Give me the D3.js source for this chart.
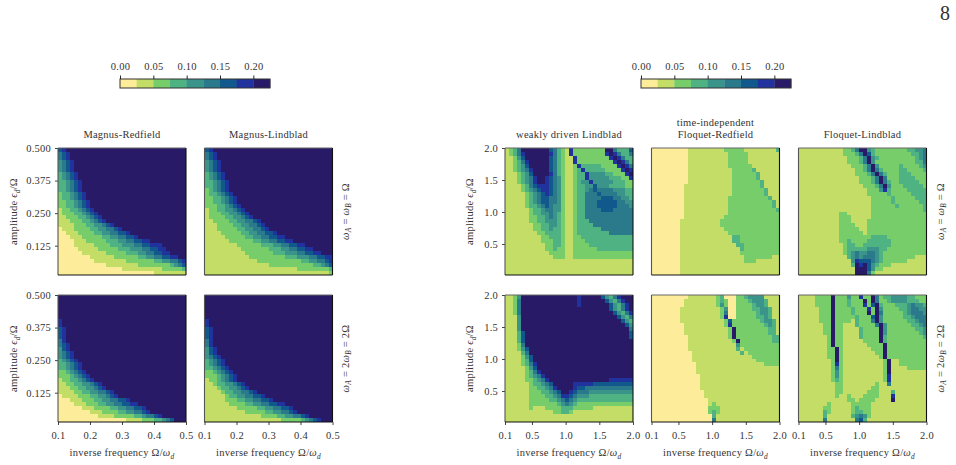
<!DOCTYPE html>
<html>
<head>
<meta charset="utf-8">
<script src="https://cdn.jsdelivr.net/npm/d3@7/dist/d3.min.js"></script>
<style>
  html, body { margin: 0; padding: 0; background: #fff; }
  svg { display: block; }
  text { font-family: "Liberation Serif", serif; fill: #333; }
</style>
</head>
<body>
<svg id="figure" width="956" height="465"></svg>
<script>
// Error measure per grid cell, stored as run-length coded rows from the top of
// each panel down. "8*3" means three cells in band 8; band b covers the values
// from b*0.025 up to (b+1)*0.025.
const magnusRedfieldEqual = [
  "6 7 8*30","5 6 7 8*29","5 6 7 8*29","4 5 6 7 8*28","4 5 6 7 8*28","4 5 6 7 8*28",
  "3 4 5 6 7 8*27","3 4 5 6 7 8*27","3*2 4 5 6 7 8*26","3*2 4 5 6 7 8*26","3*2 4 5 6 7 8*26",
  "2 3*2 4 5 6 7 8*25","2 3*2 4 5 6 7 8*25","2*2 3*2 4 5 6 7 8*24","2*2 3*2 4 5 6 7 8*24",
  "1 2*2 3*2 4 5 6 7 8*23","1 2*3 3*2 4 5 6 7 8*22","1*2 2*3 3*2 4 5 6 7 8*21",
  "1*3 2*3 3*2 4 5 6 7 8*20","1*4 2*3 3*2 4*2 5 6 7 8*18","0 1*3 2*4 3*2 4*2 5*2 6 7 8*16",
  "0*2 1*3 2*4 3*2 4*2 5*2 6*2 7 8*14","0*3 1*3 2*5 3*2 4*2 5*2 6*2 7 8*12",
  "0*4 1*3 2*5 3*3 4*2 5*2 6*2 7*2 8*9","0*4 1*5 2*4 3*3 4*3 5*2 6*2 7*3 8*6",
  "0*5 1*5 2*5 3*3 4*3 5*2 6*2 7*2 8*5","0*6 1*6 2*5 3*3 4*2 5*2 6*2 7*2 8*4",
  "0*8 1*6 2*6 3*2 4*2 5*2 6*2 7*2 8*2","0*9 1*8 2*7 3*2 4*2 5*2 6 7",
  "0*12 1*8 2*8 3 4 5 6","0*16 1*10 2*5 3","0*24 1*8"
];
const magnusLindbladEqual = [
  "6 7 8*30","5 6 7 8*29","5 6 7 8*29","4 5 6 7 8*28","4 5 6 7 8*28","4 5 6 7 8*28",
  "3 4 5 6 7 8*27","3 4 5 6 7 8*27","3*2 4 5 6 7 8*26","3*2 4 5 6 7 8*26","2 3 4 5 6 7 8*26",
  "2 3*2 4 5 6 7 8*25","2*2 3*2 4 5 6 7 8*24","2*2 3*2 4 5 6 7 8*24","2*3 3*2 4 5 6 7 8*23",
  "1 2*2 3*2 4*2 5 6 7 8*22","1 2*3 3*2 4*2 5 6 7 8*21","1 2*4 3*2 4*2 5 6 7 8*20",
  "1*2 2*4 3*2 4*2 5*2 6 7 8*18","1*3 2*4 3*2 4*2 5*2 6 7 8*17","1*3 2*5 3*2 4*2 5*2 6 7 8*16",
  "1*4 2*5 3*2 4*2 5*2 6*2 7 8*14","1*5 2*5 3*2 4*2 5*2 6*2 7*2 8*12",
  "1*6 2*6 3*2 4*2 5*2 6*2 7*2 8*10","1*8 2*6 3*3 4*2 5*2 6*2 7*2 8*7",
  "1*9 2*7 3*3 4*2 5*2 6*2 7*2 8*5","1*10 2*7 3*3 4*3 5*2 6*2 7*2 8*3",
  "1*11 2*9 3*3 4*3 5*2 6*2 7*2","1*13 2*11 3*2 4*2 5*2 6 7","1*16 2*11 3*2 4 5 6",
  "1*23 2*8 3","1*31 2"
];
const magnusRedfieldDouble = [
  "8*32","8*32","8*32","8*32","8*32","8*32","7 8*31","7 8*31","6 7 8*30","6 7 8*30","6 7 8*30",
  "5 7 8*30","5 6 7 8*29","4 6 7 8*29","4 5 6 7 8*28","4 5 6 7 8*28","3 4 5 6 7 8*27",
  "3*2 4 5 6 7 8*26","3*2 4 5 6 7 8*26","2*2 3 4 5 6 7 8*25","2*3 3 4 5 6 7 8*24",
  "1 2*2 3*2 4 5 6 7 8*23","1*2 2*2 3*2 4*2 5 6 7 8*21","1*3 2*2 3*2 4*2 5 6 7 8*20",
  "1*4 2*2 3*2 4*2 5*2 6 7 8*18","0 1*4 2*3 3*2 4*2 5 6 7 8*17",
  "0*3 1*3 2*3 3*2 4*2 5*2 6*2 7 8*14","0*4 1*3 2*3 3*2 4*2 5*2 6*2 7*2 8*12",
  "0*6 1*3 2*4 3*2 4*2 5*2 6*2 7 8*10","0*8 1*3 2*4 3*2 4*2 5*2 6 7 8*9",
  "0*10 1*4 2*5 3*2 4 5*2 6 7 8*6","0*17 1*4 2*3 3*2 4 5 6 8*3"
];
const magnusLindbladDouble = [
  "8*32","8*32","8*32","8*32","8*32","8*32","7 8*31","7 8*31","6 7 8*30","6 7 8*30","6 7 8*30",
  "5 7 8*30","5 7 8*30","4 6 7 8*29","4 6 7 8*29","4 5 6 7 8*28","3 4 5 6 7 8*27","3 4 5 6 7 8*27",
  "3*2 4 5 6 7 8*26","2*2 3 4 5 6 7 8*25","2*3 3 4 5 6 7 8*24","1 2*2 3 4 5 6 7 8*24",
  "1*2 2 3*2 4*2 5 6 7 8*22","1*3 2 3*2 4*2 5 6 7 8*21","1*4 2 3*2 4*2 5*2 6 7 8*19",
  "1*5 2 3*2 4*2 5*2 6*2 7 8*17","1*5 2*3 3*2 4*2 5*2 6*2 7 8*15",
  "1*6 2*4 3*2 4*2 5*2 6*2 7*2 8*12","1*8 2*5 3*2 4*2 5*2 6*2 7 8*10",
  "1*10 2*5 3*2 4*2 5*2 6 7 8*9","1*14 2*4 3*2 4*2 5*2 6 7 8*6","1*19 2*5 3 4 5 6 7 8*3"
];
const weakLindbladEqual = [
  "1 2 3 5 8*7 6 5 3 2 1 7 2*8 8*2 5 3*3 6","1 2 3 5 7 8*6 7 5 3 2 1 7 2*8 7 8 7 5 3*2 5",
  "1*2 2 4 6 8*6 6 5 3 2 1*2 7 2*8 7 8 7 5 3*2","1*2 2 3 5 7 8*5 6 5 3 2 1*2 7 2*9 7 8 7 5 3",
  "1*2 2 3 4 6 8*5 6 5 3 2 1*2 2 7 3*5 2*4 7 8 7 5","1*2 2 3 4 5 7 8*4 6 5 3 2 1*2 2 3 7 3*5 2*4 7 8 7",
  "1*3 2 3 4 6 8*4 7 5 3 2 1*2 2 3*2 7 4*4 3*2 2*3 7 8","1*3 2 3 4 5 7 8*2 7 6 5 4 2 1*2 2 3*2 7 4*5 3*3 2*2 7",
  "1*3 2 3 4 5 7 8*2 7 6 5 4 2 1*2 2 3 4*2 7 4*5 3*3 2*2","1*4 2 3 5 6 7*3 6 5 4 2 1*2 2 3*2 4*2 6 4*3 3*4 2*2",
  "1*4 2 3 4 5 6 7*2 6 5 4 2 1*2 2 3*2 4 5 6 5*4 4*3 3*2","1*5 2 3 4 5 6 7 6 5 4 2 1*2 2 3*2 5*3 6 5*4 4*2 3*2",
  "1*5 2 3 4 5 6*2 5*2 4 2 1*2 2 3*2 5*4 6*3 5*2 4*2 3","1*5 2 3 4 5 6*2 5*2 4 2 1*2 2 3*2 5*3 6*5 5*2 4*2",
  "1*5 2 3*2 4 5 6 5 4*2 2 1*2 2 3*2 5*3 6*5 5*3 4","1*6 2 3*2 4 5*2 4*2 2 1*2 2 3*2 5*4 6*3 5*5",
  "1*6 2 3*2 4*2 5 4 3 2 1*2 2 3*2 5*12","1*6 2*2 3*2 4 5 4 3 2 1*2 2 3*2 5*12",
  "1*6 2*2 3*2 4*3 3 2 1*2 2 3*3 5*11","1*7 2*2 3*2 4*2 3 2 1*2 2 3*4 5*10",
  "1*7 2*2 3*2 4 3*2 2 1*2 2 3*6 5*8","1*8 2*2 3*4 2 1*2 2 3*8 5*6",
  "1*9 2*2 3*3 2 1*2 2*2 3*13","1*9 2*3 3*2 2 1*2 2*3 3*12","1*10 2*2 3*2 2 1*2 2*4 3*11",
  "1*10 2*2 3 2*2 1*2 2*6 3*9","1*11 2*4 1*2 2*15","1*12 2*3 1*2 2*15","1*32","1*32","1*32","1*32"
];
const floquetRedfieldEqual = [
  "0*9 1*9 2*5 1*8 3","0*9 1*10 2*5 1*8","0*9 1*10 2*5 1*8","0*9 1*10 2*5 1*8","0*9 1*10 2*6 1*7",
  "0*9 1*11 2*5 3 1*6","0*9 1*11 2*6 3 1*5","0*9 1*11 2*6 3 1*5","0*9 1*11 2*7 3 1*4",
  "0*8 1*12 2*7 3 1*4","0*8 1*12 2*8 3 1*3","0*8 1*12 2*8 3 1*3","0*8 1*11 2*10 3 1*2",
  "0*8 1*11 2*11 3 1","0*8 1*11 2*11 3 1","0*8 1*11 2*12 3","0*8 1*11 2*13","0*8 1*10 2*14",
  "0*7 1*10 2*15","0*7 1*10 2*15","0*7 1*11 2*14","0*7 1*12 2*13","0*7 1*13 3*2 2*10",
  "0*7 1*13 3*2 2*10","0*7 1*14 3*2 2*9","0*7 1*15 3 2*9","0*7 1*15 2*10","0*7 1*16 2*7 1*2",
  "0*7 1*16 2*3 1*6","0*7 1*25","0*7 1*25","0*7 1*25"
];
const floquetLindbladEqual = [
  "1*11 2*2 3 5 8*2 4 3 2*8 3*2 4*2 5","1*11 2*3 3 5 8 6 3 2*9 3*2 4 5","1*12 2*3 3 5 8 4 3 2*9 3 4 5",
  "1*12 2*3 3 5 8 4 2*10 3*2 5","1*13 2*3 3 5 8 4 2*5 3 2*4 3 4","1*14 2*2 3 5 8 5 3 2*4 3*2 2*4 3",
  "1*14 2*3 3 5 8 5 3 2*3 3*3 2*4","1*15 2*3 3 5 8 5 2*3 3*4 2*3","1*15 2*3 3 5 8 5 3 2*2 3*5 2*2",
  "1*16 2*3 3 5 8 4 2*3 3*5 2","1*17 2*3 4 7 3 2*4 3*5","1*17 2*5 3 2*5 3*4","1*18 2*5 3 2*5 3*3",
  "1*18 2*5 3 2*6 3*2","1*18 2*6 3 2*6 3","1*18 2*13 3","1*10 2*2 1*6 2*14","1*10 2*3 1*5 2*14",
  "1*10 2*3 1*4 2*15","1*10 2*4 1*3 2*15","1*10 2*5 1*2 2*15","1*10 2*6 1 2*15","1*10 2*8 3*4 2*10",
  "1*10 2*2 3 2*4 3*6 2*9","1*11 2 3*2 2*2 3*7 2*9","1*11 2 3*5 4*3 3*2 2*10",
  "1*11 2 3 4 5 4*2 5*2 4 3 2*11","1*12 3 4 5 4 5*3 4 3 2*8 1*3","1*13 4 7 6*3 5 4 3 2*6 1*6",
  "1*13 3 8 7 8 6 4 3 2*3 1*9","1*14 8*3 6 4 2*2 1*11","1*14 8*3 5 2 1*13"
];
const weakLindbladDouble = [
  "1*2 2 4 8*14 7 8*5 6 4 3 5 7 8*3","1*2 2 5 8*14 7 8*6 6 4 3 5 7 8*2","1*2 2 5 8*14 7 8*7 6 4 3 5 7 8",
  "1*2 2 5 8*22 6 4 3 5 7 8","1*2 2 5 8*23 6 4 3 5 7","1*3 4 8*24 6 4 3 5","1*3 4 8*25 6 4 3",
  "1*3 4 8*26 6 4","1*3 4 8*27 5","1*3 3 6 8*26 6","1*3 3 6 8*26 6","1*3 3 6 8*27","1*3 2 5 8*27",
  "1*3 2 4 6 8*26","1*4 3 5 8*26","1*4 2 4 6 8*25","1*4 2 3 6 8*25","1*4 2 3 5 7 8*24",
  "1*5 2 4 6 8*24","1*5 2 3 5 7 8*23","1*5 2 3 4 5 7 8*22","1*5 2*2 3 4 5 7 8*15 7*6",
  "1*6 2 3*2 4 5 6 8*5 7*5 6*10","1*6 2*2 3*2 4 5 7 8*4 7 6*2 5*12","1*6 2*3 3*2 4 5 6 8*2 7 6 5*3 4*11",
  "1*6 2*4 3*2 4 5 7*2 6 5 4*3 3*11","1*6 2*5 3*2 4 5 6 5 4 3*14","1*6 2*7 3 4 5 4 3 2*14",
  "1*6 2 1*3 2*4 3*3 2*5 1*10","1*12 2*2 3*2 2 1*15","1*32","1*32"
];
const floquetRedfieldDouble = [
  "0*9 1*7 2 3 0*3 2*2 3 4*4 1*4","0*8 1*8 2 3 2 0*2 2*3 3 4*3 3 1*3","0*8 1*8 2 4 2 0*2 2*4 3 4*2 3 1*3",
  "0*7 1*10 2 4 0*2 2*4 3*2 4*2 3 1*2","0*7 1*10 2 5 0*2 2*5 3 4*2 3 1*2","0*7 1*10 2 7 0*2 2*5 3*2 4 3 1*2",
  "0*7 1*11 2 6 2*7 3 4*2 3 1","0*8 1*10 2 7 2*8 3 4 3 1","0*8 1*11 2 8 2*8 3*2 1","0*8 1*11 2 8 2*8 3*2 1",
  "0*9 1*10 2 8 2*9 3*2","0*9 1*11 2 8 2*8 3*2","0*9 1*12 4 2*10","0*9 1*12 3 1 2*9","0*10 1*12 3 1 2*8",
  "0*10 1*15 2*7","0*10 1*16 2*6","0*11 1*17 2*4","0*11 1*21","0*11 1*21","0*12 1*20","0*12 1*20","0*12 1*20",
  "0*12 1*20","0*13 1*19","0*13 1*19","0*14 1*18","0*14 1 2 1*16","0*14 2*3 1*15","0*14 2 3 2 1*15",
  "0*15 3 1*16","0*15 5 1*16"
];
const floquetLindbladDouble = [
  "1*4 2*4 8 2*3 4 2*2 7 2*2 8 5 2 3*2 4*4 3*2 2*3","1*4 2*4 8 2*3 3 2*3 8 2 8 5 2*2 3 4*4 3*3 2*2",
  "1*4 2*4 8 2*3 3 2*3 7 2 6 8 3 2*3 3*3 4 5 4*2 3","1*5 2*3 8 2*4 3 2*3 7 2 8 4 2*4 3*2 4 5*2 4*2",
  "1*5 2*3 8 2*4 3 2*3 8 2 8 5 2*5 3 4 5*3 4","1*5 2*3 8 2*5 3 2*3 6 8 4 2*5 3*2 4 5*3",
  "1*5 2*3 8 2*4 1 3 2*3 5 8 4 2*6 3*2 4 5*2","1*6 2*2 8 2*2 1*3 3 2*4 5 8 4 2*6 3*2 4 5",
  "1*6 2*2 8 2*2 1*4 3 2*4 8 4 2*7 3*2 4","1*6 2*2 8 2*2 1*4 3 2*4 8 4 2*8 3 4",
  "1*7 2 8 2*2 1*4 3 2*4 8 3 2*9 3","1*7 2 8 2*2 1*5 2*4 8 3 2*10","1*7 2 8 2*2 1*6 2*4 8 2*10",
  "1*7 2*2 8 2 1*7 2*3 8 2*10","1*7 2*2 8 2 1*8 2*2 8 2*10","1*7 2*2 8 2 1*9 2 8 2*10",
  "1*8 2 8 2 1*10 2 8 1*2 2*7","1*8 2 7 2 1*10 2 8 1*2 2*7","1*8 2 5 2 1*10 2 8 1*4 2*5",
  "1*8 2 4 2 1*10 2 8 1*9","1*8 2 4 2 1*10 2 7 1*9","1*8 2 3 2 1*10 2 7 1*9",
  "1*9 2*2 1*8 2 1*2 5 1*9","1*9 2*2 1*7 2*2 1*12","1*9 2*2 1*6 2*3 1*3 3 1*8",
  "1*9 2 1*2 2 1*3 2*4 1*3 7 1*8","1*12 2*2 1 2*4 1*4 8 1*8","1*7 2 1*5 2*5 1*14",
  "1*6 2*2 1*5 2 3 2*3 1*14","1*6 3 2 1*5 2 3*2 2*2 1*14","1*6 3 1*6 3 4 5 4 2 1*14","1*6 5 1*7 5 6 3 1*15"
];

const bandColors = ["#fdec9a","#c3dd66","#78cd6b","#4eb282","#3a9489","#2a7a8c","#11598c","#20329e","#291a68"];
const bandEdges = [0.025,0.05,0.075,0.1,0.125,0.15,0.175,0.2];
const colorbarTicks = [0,0.05,0.1,0.15,0.2];
const narrowFreqTicks = [0.1,0.2,0.3,0.4,0.5];
const narrowAmpTicks = [0.125,0.25,0.375,0.5];
const wideFreqTicks = [0.1,0.5,1,1.5,2];
const wideAmpTicks = [0.5,1,1.5,2];

const color = d3.scaleThreshold().domain(bandEdges).range(bandColors);
const svg = d3.select("#figure");
const FONT = 10.5;
const SPACING = 0.25;

const italic = t => ({t, i: true});
const sub = t => ({t, i: true, sub: true});
const plain = t => ({t});
const freqLabel = [plain("inverse frequency Ω/"), italic("ω"), sub("d")];
const ampLabel = [plain("amplitude "), italic("ϵ"), sub("d"), plain("/Ω")];
const equalLabel = [italic("ω"), sub("A"), plain(" = "), italic("ω"), sub("B"), plain(" = Ω")];
const doubleLabel = [italic("ω"), sub("A"), plain(" = 2"), italic("ω"), sub("B"), plain(" = 2Ω")];

function expandRow(row) {
  const cells = [];
  row.split(" ").forEach(run => {
    const [band, count] = run.split("*");
    for (let k = 0; k < (count ? +count : 1); k++) cells.push((+band + 0.5) * 0.025);
  });
  return cells;
}

function mathText(g, parts, attrs) {
  const text = g.append("text")
    .attr("font-size", FONT).attr("letter-spacing", SPACING).attr("text-anchor", "middle");
  Object.entries(attrs).forEach(([k, v]) => text.attr(k, v));
  let lowered = false;
  parts.forEach(p => {
    const span = text.append("tspan").text(p.t);
    if (p.i) span.attr("font-style", "italic");
    if (p.sub) { span.attr("font-size", FONT * 0.7).attr("dy", 2.5); lowered = true; }
    else if (lowered) { span.attr("dy", -2.5); lowered = false; }
  });
  return text;
}

function drawPanel(cfg) {
  const w = 128, h = 127;
  const g = svg.append("g").attr("transform", `translate(${cfg.x},${cfg.y})`);
  const grid = cfg.rows.map(expandRow);
  const cols = d3.scaleBand().domain(d3.range(32)).range([0, w]);
  const rows = d3.scaleBand().domain(d3.range(grid.length)).range([0, h]);
  const xScale = d3.scaleLinear().domain(cfg.xDomain).range([0, w]);
  const yScale = d3.scaleLinear().domain(cfg.yDomain).range([h, 0]);

  grid.forEach((cells, r) => {
    g.append("g").attr("shape-rendering", "crispEdges")
      .selectAll("rect").data(cells.slice(0, 32)).join("rect")
      .attr("x", (d, c) => cols(c)).attr("y", rows(r))
      .attr("width", cols.bandwidth()).attr("height", rows.bandwidth())
      .attr("fill", d => color(d));
  });

  if (cfg.xTicks) {
    const ax = g.append("g").attr("transform", `translate(0,${h})`)
      .call(d3.axisBottom(xScale).tickValues(cfg.xTicks).tickFormat(d3.format(".1f")).tickSize(3).tickPadding(6.5));
    ax.select(".domain").remove();
    ax.selectAll("text").attr("font-size", FONT).attr("letter-spacing", SPACING).attr("font-family", null);
    ax.selectAll("line").attr("stroke", "#111").attr("stroke-width", 0.8);
    mathText(g, freqLabel, {x: w / 2, y: h + 34});
  }
  if (cfg.yTicks) {
    const ay = g.append("g")
      .call(d3.axisLeft(yScale).tickValues(cfg.yTicks).tickFormat(d3.format(cfg.yFormat)).tickSize(3).tickPadding(4));
    ay.select(".domain").remove();
    ay.selectAll("text").attr("font-size", FONT).attr("letter-spacing", SPACING).attr("font-family", null);
    ay.selectAll("line").attr("stroke", "#111").attr("stroke-width", 0.8);
    mathText(g, ampLabel, {transform: `translate(${cfg.yLabelX},${h / 2}) rotate(-90)`});
  }
  if (cfg.side) {
    mathText(g, cfg.side, {transform: `translate(${cfg.sideX},${h / 2}) rotate(-90)`});
  }
  (cfg.title || []).forEach((line, i, all) => {
    g.append("text").attr("x", w / 2).attr("y", -10 - (all.length - 1 - i) * 12.5)
      .attr("text-anchor", "middle").attr("font-size", FONT).attr("letter-spacing", SPACING).text(line);
  });

  // Frame: the top and left edges sit on a pixel boundary and read lighter.
  const frame = [[0, 0, w, 0, "#666"], [0, 0, 0, h, "#555"], [w, 0, w, h, "#111"], [0, h, w, h, "#111"]];
  g.append("g").selectAll("line").data(frame).join("line")
    .attr("x1", d => d[0]).attr("y1", d => d[1]).attr("x2", d => d[2]).attr("y2", d => d[3])
    .attr("stroke", d => d[4]).attr("stroke-width", 1.1);
}

function drawColorbar(x0) {
  const w = 150, h = 9, y0 = 79;
  const g = svg.append("g").attr("transform", `translate(${x0},${y0})`);
  const scale = d3.scaleLinear().domain([0, 0.225]).range([0, w]);
  const edges = [0, ...bandEdges, 0.225];
  g.selectAll("rect").data(bandColors).join("rect")
    .attr("x", (d, i) => scale(edges[i])).attr("y", 0)
    .attr("width", (d, i) => scale(edges[i + 1]) - scale(edges[i]) + 0.3).attr("height", h)
    .attr("fill", d => d);
  g.append("rect").attr("width", w).attr("height", h).attr("fill", "none")
    .attr("stroke", "#333").attr("stroke-width", 1);
  const axis = g.append("g")
    .call(d3.axisTop(scale).tickValues(colorbarTicks).tickFormat(d3.format(".2f")).tickSize(3.5).tickPadding(6));
  axis.select(".domain").remove();
  axis.selectAll("text").attr("font-size", FONT).attr("letter-spacing", SPACING).attr("font-family", null);
  axis.selectAll("line").attr("stroke", "#111").attr("stroke-width", 0.9);
}

const narrow = {xDomain: [0.1, 0.5], yDomain: [0.0125, 0.5], yFormat: ".3f", yLabelX: -41};
const wide = {xDomain: [0.1, 2], yDomain: [0.015, 2], yFormat: ".1f", yLabelX: -32};

const panels = [
  {...narrow, x: 58, y: 148, rows: magnusRedfieldEqual, title: ["Magnus-Redfield"], yTicks: narrowAmpTicks},
  {...narrow, x: 204.5, y: 148, rows: magnusLindbladEqual, title: ["Magnus-Lindblad"], side: equalLabel, sideX: 144},
  {...narrow, x: 58, y: 295, rows: magnusRedfieldDouble, yTicks: narrowAmpTicks, xTicks: narrowFreqTicks},
  {...narrow, x: 204.5, y: 295, rows: magnusLindbladDouble, xTicks: narrowFreqTicks, side: doubleLabel, sideX: 144},
  {...wide, x: 505, y: 148, rows: weakLindbladEqual, title: ["weakly driven Lindblad"], yTicks: wideAmpTicks},
  {...wide, x: 651.5, y: 148, rows: floquetRedfieldEqual, title: ["time-independent", "Floquet-Redfield"]},
  {...wide, x: 798.5, y: 148, rows: floquetLindbladEqual, title: ["Floquet-Lindblad"], side: equalLabel, sideX: 145},
  {...wide, x: 505, y: 295, rows: weakLindbladDouble, yTicks: wideAmpTicks, xTicks: wideFreqTicks},
  {...wide, x: 651.5, y: 295, rows: floquetRedfieldDouble, xTicks: wideFreqTicks},
  {...wide, x: 798.5, y: 295, rows: floquetLindbladDouble, xTicks: wideFreqTicks, side: doubleLabel, sideX: 145}
];
panels.forEach(drawPanel);
drawColorbar(120);
drawColorbar(641);

svg.append("text").attr("x", 945).attr("y", 20).attr("text-anchor", "middle")
  .attr("font-size", 20).text("8");
</script>
</body>
</html>
